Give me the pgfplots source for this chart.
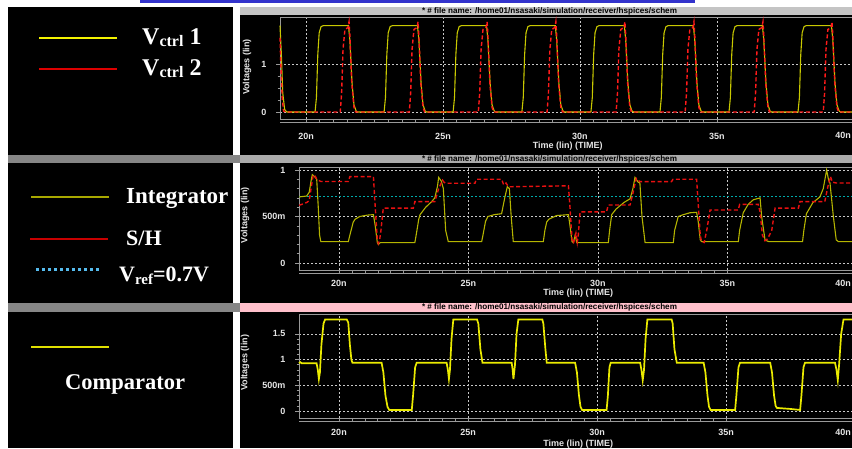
\documentclass[border=0pt]{standalone}
\usepackage{fontspec}
\setmainfont{Liberation Serif}
\newfontfamily\plotfont{Liberation Sans}
\usepackage{graphicx}
\usepackage{pgfplots}
\pgfplotsset{compat=1.18}

\definecolor{bluebar}{HTML}{3333CC}
\definecolor{titlegray}{HTML}{C4C4C4}
\definecolor{titlegray2}{HTML}{ABABAB}
\definecolor{sepgray}{HTML}{868686}
\definecolor{titlepink}{HTML}{FFC0CB}
\definecolor{ylA}{HTML}{C8C800}
\definecolor{ylB}{HTML}{B4B400}
\definecolor{ylC}{HTML}{EAEA00}
\definecolor{rdA}{HTML}{FF1A1A}
\definecolor{rdB}{HTML}{E81010}
\definecolor{cyA}{HTML}{00AAAA}
\definecolor{legY}{HTML}{F2F200}
\definecolor{legR}{HTML}{DD0000}
\definecolor{legO}{HTML}{A8A800}
\definecolor{legDR}{HTML}{C80000}
\definecolor{legC}{HTML}{55BBEE}
\definecolor{legY3}{HTML}{E0E000}
\definecolor{gridc}{HTML}{C8C8C8}
\definecolor{axc}{HTML}{999999}
\definecolor{lbl}{HTML}{E6E6E6}

\newcommand{\plotlabelfont}{\plotfont\bfseries\fontsize{9}{10}\selectfont}

\pgfplotsset{
  panel/.style={
    scale only axis, anchor=south west, clip=false,
    axis line style={draw=axc, line width=0.8pt},
    every tick/.style={draw=axc, line width=0.6pt},
    major tick length=4pt, minor tick length=2.5pt,
    tick align=outside, xtick pos=left, ytick pos=left,
    grid=major,
    major grid style={draw=gridc, dash pattern=on 2pt off 2pt, line width=0.6pt},
    minor x tick num=9,
    xtick={20,25,30,35}, xticklabels={20n,25n,30n,35n},
    tick label style={font=\plotlabelfont, text=lbl},
    yticklabel style={xshift=-6pt},
  }
}

\begin{document}
\begin{tikzpicture}[x=1pt,y=1pt]
\path[use as bounding box, fill=white] (0,0) rectangle (852,448);
\fill[black] (8,0) rectangle (233,441);
\fill[black] (240,0) rectangle (852,441);
\fill[bluebar] (140,445.3) rectangle (695,448);
\fill[titlegray] (240,433) rectangle (852,441);
\fill[sepgray] (8,285) rectangle (240,293);
\fill[titlegray2] (240,285) rectangle (852,293);
\fill[sepgray] (8,136) rectangle (240,145);
\fill[titlepink] (240,136) rectangle (852,145);
\node[inner sep=0pt] at (549.5,437) {\resizebox{255pt}{!}{\plotfont\bfseries * \# file name: /home01/nsasaki/simulation/receiver/hspices/schem}};
\node[inner sep=0pt] at (549.5,289) {\resizebox{255pt}{!}{\plotfont\bfseries * \# file name: /home01/nsasaki/simulation/receiver/hspices/schem}};
\node[inner sep=0pt] at (549.5,140.5) {\resizebox{255pt}{!}{\plotfont\bfseries * \# file name: /home01/nsasaki/simulation/receiver/hspices/schem}};

% left legend panel
\draw[legY, line width=1.3pt] (39,410) -- (117,410);
\draw[legR, line width=1.2pt] (39,379) -- (117,379);
\node[anchor=base west, inner sep=0pt, text=white, font=\bfseries] at (142,403) {\fontsize{24}{24}\selectfont V\raisebox{-2pt}{\fontsize{16}{16}\selectfont ctrl}\ 1};
\node[anchor=base west, inner sep=0pt, text=white, font=\bfseries] at (142,372) {\fontsize{24}{24}\selectfont V\raisebox{-2pt}{\fontsize{16}{16}\selectfont ctrl}\ 2};
\draw[legO, line width=1.3pt] (31,251) -- (109,251);
\draw[legDR, line width=1.3pt] (30,209) -- (108,209);
\draw[legC, line width=3pt, dash pattern=on 3pt off 3pt] (36,179) -- (99,179);
\node[anchor=base west, inner sep=0pt, text=white, font=\bfseries] at (126,244) {\fontsize{23}{23}\selectfont Integrator};
\node[anchor=base west, inner sep=0pt, text=white, font=\bfseries] at (126,203) {\fontsize{22}{22}\selectfont S/H};
\node[anchor=base west, inner sep=0pt, text=white, font=\bfseries] at (119,167) {\fontsize{22}{22}\selectfont V\raisebox{-3pt}{\fontsize{15}{15}\selectfont ref}=0.7V};
\draw[legY3, line width=1.3pt] (31,101) -- (109,101);
\node[anchor=base west, inner sep=0pt, text=white, font=\bfseries] at (65,59) {\fontsize{22.5}{22.5}\selectfont Comparator};

% ---------- panel 1 ----------
\begin{axis}[panel, at={(280pt,329pt)}, width=572pt, height=102pt,
  xmin=19.05, xmax=39.93, ymin=-0.146, ymax=1.98,
  xticklabel style={yshift=-7pt},
  ytick={0,1}, yticklabels={0,1}, minor y tick num=3]
\addplot[ylA, line width=1.1pt] coordinates {
(19.05,1.8) (19.1,1.2) (19.15,0.4) (19.22,0.05) (19.3,0)
(20.33,0) (20.38,0.3) (20.43,1.2) (20.48,1.65) (20.55,1.78) (20.63,1.8) (21.55,1.8) (21.6,1.5) (21.68,0.6) (21.75,0.15) (21.83,0.02) (21.88,0)
(22.85,0) (22.90,0.3) (22.95,1.2) (23.00,1.65) (23.07,1.78) (23.15,1.8) (24.07,1.8) (24.12,1.5) (24.20,0.6) (24.27,0.15) (24.35,0.02) (24.40,0)
(25.37,0) (25.42,0.3) (25.47,1.2) (25.52,1.65) (25.59,1.78) (25.67,1.8) (26.59,1.8) (26.64,1.5) (26.72,0.6) (26.79,0.15) (26.87,0.02) (26.92,0)
(27.88,0) (27.93,0.3) (27.98,1.2) (28.03,1.65) (28.10,1.78) (28.18,1.8) (29.10,1.8) (29.15,1.5) (29.23,0.6) (29.30,0.15) (29.38,0.02) (29.43,0)
(30.40,0) (30.45,0.3) (30.50,1.2) (30.55,1.65) (30.62,1.78) (30.70,1.8) (31.62,1.8) (31.67,1.5) (31.75,0.6) (31.82,0.15) (31.90,0.02) (31.95,0)
(32.92,0) (32.97,0.3) (33.02,1.2) (33.07,1.65) (33.14,1.78) (33.22,1.8) (34.14,1.8) (34.19,1.5) (34.27,0.6) (34.34,0.15) (34.42,0.02) (34.47,0)
(35.44,0) (35.49,0.3) (35.54,1.2) (35.59,1.65) (35.66,1.78) (35.74,1.8) (36.66,1.8) (36.71,1.5) (36.79,0.6) (36.86,0.15) (36.94,0.02) (36.99,0)
(37.96,0) (38.01,0.3) (38.06,1.2) (38.11,1.65) (38.18,1.78) (38.26,1.8) (39.18,1.8) (39.23,1.5) (39.31,0.6) (39.38,0.15) (39.46,0.02) (39.51,0)
(39.93,0)};
\addplot[rdA, line width=1.4pt, dash pattern=on 4pt off 2.5pt] coordinates {
(19.05,1.55) (19.08,1.0) (19.13,0.3) (19.18,0.02) (19.25,0)
(21.25,0) (21.30,0.4) (21.35,1.3) (21.42,1.72) (21.53,1.76) (21.57,1.88) (21.60,1.6) (21.67,0.6) (21.75,0.1) (21.81,0)
(23.77,0) (23.82,0.4) (23.87,1.3) (23.94,1.72) (24.05,1.76) (24.09,1.88) (24.12,1.6) (24.19,0.6) (24.27,0.1) (24.33,0)
(26.29,0) (26.34,0.4) (26.39,1.3) (26.46,1.72) (26.57,1.76) (26.61,1.88) (26.64,1.6) (26.71,0.6) (26.79,0.1) (26.85,0)
(28.80,0) (28.85,0.4) (28.90,1.3) (28.97,1.72) (29.08,1.76) (29.12,1.88) (29.15,1.6) (29.22,0.6) (29.30,0.1) (29.36,0)
(31.32,0) (31.37,0.4) (31.42,1.3) (31.49,1.72) (31.60,1.76) (31.64,1.88) (31.67,1.6) (31.74,0.6) (31.82,0.1) (31.88,0)
(33.84,0) (33.89,0.4) (33.94,1.3) (34.01,1.72) (34.12,1.76) (34.16,1.88) (34.19,1.6) (34.26,0.6) (34.34,0.1) (34.40,0)
(36.36,0) (36.41,0.4) (36.46,1.3) (36.53,1.72) (36.64,1.76) (36.68,1.88) (36.71,1.6) (36.78,0.6) (36.86,0.1) (36.92,0)
(38.88,0) (38.93,0.4) (38.98,1.3) (39.05,1.72) (39.16,1.76) (39.20,1.88) (39.23,1.6) (39.30,0.6) (39.38,0.1) (39.44,0)
(39.93,0)};
\draw[axc, line width=0.8pt] ([yshift=-3pt]rel axis cs:0,0) -- ([yshift=-3pt]rel axis cs:1,0);
\node[font=\plotlabelfont, text=lbl, rotate=90] at ([xshift=-33pt]rel axis cs:0,0.51) {Voltages (lin)};
\node[font=\plotlabelfont, text=lbl] at ([yshift=-27pt]rel axis cs:0.503,0) {Time (lin) (TIME)};
\node[font=\plotlabelfont, text=lbl, anchor=east, inner sep=1pt] at ([yshift=-16pt]rel axis cs:1,0) {40n};
\end{axis}

% ---------- panel 2 ----------
\begin{axis}[panel, at={(299pt,178pt)}, width=553pt, height=103pt,
  xmin=18.456, xmax=39.81, ymin=-0.075, ymax=1.032,
  xticklabel style={yshift=-3pt},
  ytick={0,0.5,1}, yticklabels={0,500m,1}, minor y tick num=4]
\addplot[cyA, line width=1pt, dash pattern=on 2pt off 2pt] coordinates {(18.456,0.71) (39.81,0.71)};
\addplot[ylB, line width=1.1pt] coordinates {
(18.46,0.71) (18.75,0.72) (18.85,0.76) (18.92,0.88) (18.97,0.95) (19.05,0.93) (19.14,0.9) (19.2,0.6) (19.25,0.3) (19.3,0.23)
(20.36,0.23) (20.42,0.3) (20.55,0.44) (20.62,0.47) (20.8,0.5) (21.1,0.515) (21.33,0.52) (21.4,0.4) (21.48,0.22) (21.52,0.2) (21.6,0.22)
(22.93,0.22) (22.98,0.3) (23.08,0.47) (23.13,0.52) (23.35,0.6) (23.58,0.66) (23.7,0.7) (23.8,0.82) (23.85,0.92) (23.95,0.88) (24.03,0.8) (24.12,0.35) (24.22,0.23)
(25.51,0.23) (25.56,0.3) (25.66,0.45) (25.75,0.5) (26.0,0.52) (26.28,0.53) (26.4,0.7) (26.5,0.82) (26.58,0.8) (26.65,0.5) (26.73,0.23)
(27.89,0.23) (27.95,0.35) (28.02,0.44) (28.1,0.47) (28.4,0.51) (28.86,0.52) (28.92,0.4) (29.0,0.23) (29.05,0.22) (29.12,0.3) (29.18,0.22)
(30.4,0.22) (30.45,0.35) (30.53,0.52) (30.7,0.58) (31.0,0.65) (31.24,0.69) (31.35,0.8) (31.43,0.92) (31.55,0.87) (31.62,0.86) (31.7,0.5) (31.82,0.22)
(32.91,0.22) (32.96,0.35) (33.1,0.5) (33.3,0.52) (33.55,0.54) (33.81,0.545) (33.87,0.45) (33.95,0.25) (34.0,0.23)
(35.42,0.23) (35.47,0.35) (35.61,0.54) (35.8,0.63) (36.0,0.68) (36.26,0.7) (36.32,0.5) (36.45,0.25) (36.51,0.24) (36.6,0.23)
(37.9,0.23) (37.95,0.35) (38.05,0.53) (38.3,0.65) (38.57,0.71) (38.7,0.8) (38.83,1.0) (38.9,0.9) (38.96,0.86) (39.09,0.5) (39.2,0.25) (39.28,0.23)
(39.81,0.23)};
\addplot[rdB, line width=1.4pt, dash pattern=on 4pt off 2.5pt] coordinates {
(18.46,0.62) (18.75,0.65) (18.85,0.67) (18.92,0.8) (19.0,0.94) (19.06,0.946) (19.14,0.9) (19.3,0.876)
(20.36,0.876) (20.42,0.928) (21.33,0.928) (21.4,0.6) (21.48,0.25) (21.52,0.21) (21.57,0.25) (21.62,0.35) (21.71,0.59)
(22.87,0.59) (22.93,0.66) (23.7,0.66) (23.85,0.8) (24.0,0.89) (24.05,0.87) (24.12,0.857)
(25.25,0.857) (25.3,0.9) (26.28,0.9) (26.36,0.84) (26.45,0.86) (26.54,0.82) (26.65,0.82)
(28.86,0.83) (28.92,0.6) (29.0,0.25) (29.05,0.21) (29.15,0.32) (29.2,0.22) (29.24,0.3) (29.31,0.55)
(30.33,0.55) (30.4,0.624) (31.24,0.624) (31.35,0.75) (31.48,0.91) (31.62,0.875)
(32.84,0.875) (32.9,0.9) (33.81,0.9) (33.88,0.6) (33.95,0.3) (34.0,0.23) (34.1,0.22) (34.2,0.35) (34.33,0.57)
(35.42,0.57) (35.47,0.63) (36.19,0.63) (36.26,0.55) (36.35,0.3) (36.45,0.24) (36.55,0.26) (36.71,0.35) (36.84,0.59)
(37.74,0.59) (37.8,0.66) (38.76,0.66) (38.9,0.85) (38.98,0.93) (39.05,0.87) (39.2,0.86) (39.81,0.86)};
\draw[axc, line width=0.8pt] ([yshift=-3pt]rel axis cs:0,0) -- ([yshift=-3pt]rel axis cs:1,0);
\node[font=\plotlabelfont, text=lbl, rotate=90] at ([xshift=-54pt]rel axis cs:0,0.53) {Voltages (lin)};
\node[font=\plotlabelfont, text=lbl] at ([yshift=-23pt]rel axis cs:0.505,0) {Time (lin) (TIME)};
\node[font=\plotlabelfont, text=lbl, anchor=east, inner sep=1pt] at ([yshift=-13pt]rel axis cs:1,0) {40n};
\end{axis}

% ---------- panel 3 ----------
\begin{axis}[panel, at={(299pt,30pt)}, width=553pt, height=104pt,
  xmin=18.45, xmax=39.88, ymin=-0.136, ymax=1.887,
  xticklabel style={yshift=-4pt},
  ytick={0,0.5,1,1.5}, yticklabels={0,500m,1,1.5}, minor y tick num=4]
\addplot[ylC, line width=1.7pt] coordinates {
(18.45,0.93) (18.5,0.95) (18.55,0.93) (19.13,0.93) (19.18,0.8) (19.22,0.62) (19.26,0.75) (19.32,1.3) (19.4,1.7) (19.46,1.78)
(20.3,1.78) (20.36,1.72) (20.42,1.3) (20.48,1.0) (20.52,0.94) (21.65,0.94) (21.72,0.75) (21.8,0.3) (21.88,0.08) (21.95,0.02)
(22.82,0.02) (22.87,0.3) (22.95,0.85) (23.01,0.94) (24.17,0.94) (24.22,0.8) (24.26,0.62) (24.3,0.8) (24.36,1.4) (24.43,1.78)
(25.35,1.78) (25.4,1.7) (25.48,1.2) (25.56,0.94) (26.69,0.94) (26.73,0.8) (26.76,0.62) (26.82,0.9) (26.88,1.5) (26.95,1.78)
(27.88,1.78) (27.92,1.7) (28.0,1.2) (28.05,0.94) (29.15,0.94) (29.22,0.75) (29.3,0.3) (29.36,0.08) (29.42,0.02)
(30.37,0.02) (30.42,0.3) (30.48,0.85) (30.53,0.94) (31.67,0.94) (31.72,0.8) (31.77,0.6) (31.82,0.8) (31.88,1.4) (31.95,1.78)
(32.89,1.78) (32.93,1.7) (33.0,1.2) (33.09,0.94) (34.13,0.94) (34.2,0.75) (34.28,0.3) (34.34,0.08) (34.4,0.02)
(35.35,0.02) (35.4,0.3) (35.48,0.85) (35.54,0.94) (36.71,0.94) (36.78,0.75) (36.86,0.3) (36.92,0.1) (36.97,0.06) (37.5,0.04)
(37.87,0.02) (37.92,0.3) (38.0,0.85) (38.06,0.94) (39.22,0.94) (39.28,0.8) (39.33,0.6) (39.38,0.9) (39.46,1.5) (39.55,1.78) (39.88,1.78)};
\draw[axc, line width=0.8pt] ([yshift=-3pt]rel axis cs:0,0) -- ([yshift=-3pt]rel axis cs:1,0);
\node[font=\plotlabelfont, text=lbl, rotate=90] at ([xshift=-54pt]rel axis cs:0,0.53) {Voltages (lin)};
\node[font=\plotlabelfont, text=lbl] at ([yshift=-26pt]rel axis cs:0.505,0) {Time (lin) (TIME)};
\node[font=\plotlabelfont, text=lbl, anchor=east, inner sep=1pt] at ([yshift=-14pt]rel axis cs:1,0) {40n};
\end{axis}
\end{tikzpicture}
\end{document}
